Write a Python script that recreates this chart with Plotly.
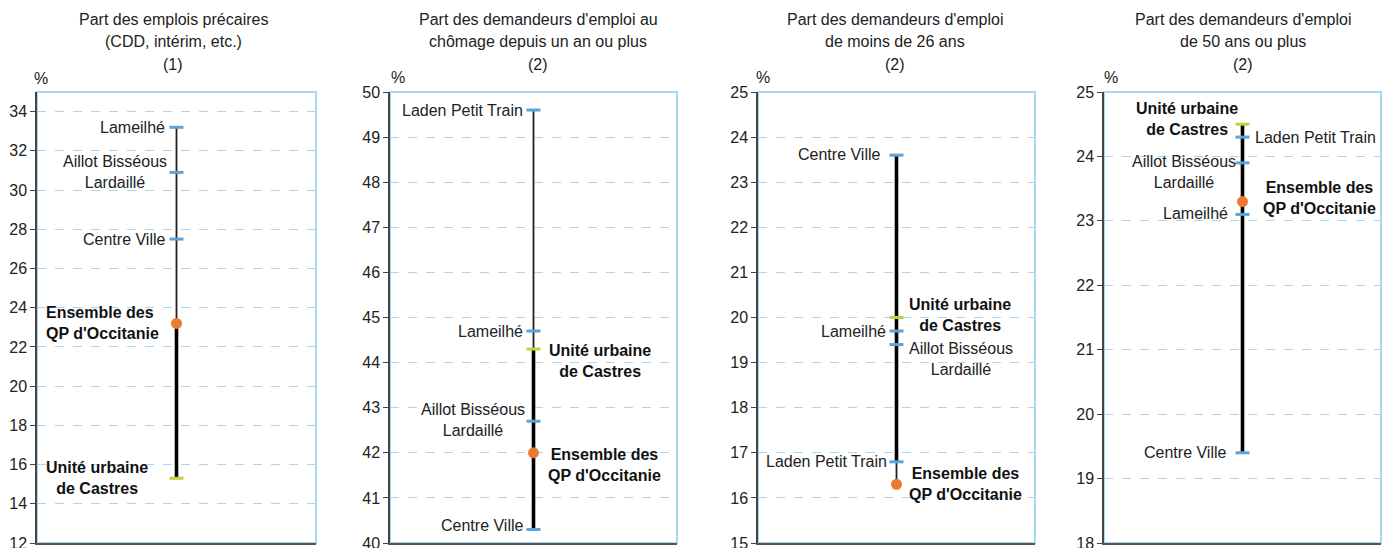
import plotly.graph_objects as go

# ---------------- data ----------------
titles = [
    ["Part des emplois précaires", "(CDD, intérim, etc.)", "(1)"],
    ["Part des demandeurs d'emploi au", "chômage depuis un an ou plus", "(2)"],
    ["Part des demandeurs d'emploi", "de moins de 26 ans", "(2)"],
    ["Part des demandeurs d'emploi", "de 50 ans ou plus", "(2)"],
]
qp_names = ["Lameilhé", "Aillot Bisséous<br>Lardaillé", "Centre Ville", "Laden Petit Train"]
ens_name = "Ensemble des<br>QP d'Occitanie"
uu_name = "Unité urbaine<br>de Castres"

qp_values = [
    [33.2, 30.9, 27.5, None],
    [44.7, 42.7, 40.3, 49.6],
    [19.7, 19.4, 23.6, 16.8],
    [23.1, 23.9, 19.4, 24.3],
]
ens_values = [23.2, 42.0, 16.3, 23.3]
uu_values = [15.3, 44.3, 20.0, 24.5]

y_ranges = [[12, 35], [40, 50], [15, 25], [18, 25]]
y_dticks = [2, 1, 1, 1]

# thick segment bounds, given by the names of the two end points
thick_ends = [
    (ens_name, uu_name),
    (uu_name, "Centre Ville"),
    ("Centre Ville", "Laden Petit Train"),
    (uu_name, "Centre Ville"),
]

# ---------------- label layout (side, xshift px, yshift px, align) ----------------
label_layout = [
    {
        "Lameilhé": ("L", -10, 0, "center"),
        "Aillot Bisséous<br>Lardaillé": ("L", -8, 0, "center"),
        "Centre Ville": ("L", -9, 0, "center"),
        ens_name: ("L", -16, 0, "left"),
        uu_name: ("L", -27, 0, "center"),
    },
    {
        "Laden Petit Train": ("L", -9, 0, "center"),
        "Lameilhé": ("L", -9, 0, "center"),
        uu_name: ("R", 13, -12, "center"),
        "Aillot Bisséous<br>Lardaillé": ("L", -7, 1, "center"),
        ens_name: ("R", 12, -12, "center"),
        "Centre Ville": ("L", -8, 4, "center"),
    },
    {
        "Centre Ville": ("L", -13, 1, "center"),
        uu_name: ("R", 11, 3, "center"),
        "Lameilhé": ("L", -8, 0, "center"),
        "Aillot Bisséous<br>Lardaillé": ("R", 11, -14, "center"),
        "Laden Petit Train": ("L", -7, 0, "center"),
        ens_name: ("R", 11, 0, "center"),
    },
    {
        uu_name: ("L", -3, 5, "center"),
        "Laden Petit Train": ("R", 10, 0, "center"),
        "Aillot Bisséous<br>Lardaillé": ("L", -5, -9, "center"),
        ens_name: ("R", 18, 4, "center"),
        "Lameilhé": ("L", -13, 1, "center"),
        "Centre Ville": ("L", -14, 0, "center"),
    },
]

# ---------------- geometry (page pixels; the page body adds an 8px margin) ----------------
W, H = 1394, 548
OFF = 8
x_domains_px = [(37, 316), (390, 677), (758, 1035), (1104, 1381)]
y_top_px, y_bot_px = 92, 543
title_cx_px = [173, 538, 895, 1243]
title_cy_px = [19, 42, 65]
pct_px = [(41, 78), (398, 77), (763, 77), (1111, 77)]


def fx(px):
    return (px - OFF) / W


def fy(py):
    return 1 - (py - OFF) / H


FONT = "Liberation Sans, Arial, Helvetica, sans-serif"
TXT = "#222222"
BLUE = "#5BA3D8"
GREEN = "#BDD53A"
ORANGE = "#EA7B30"
GRID = "#A6D8F2"
BORDER = "#A9D8F0"

fig = go.Figure()
annotations = []
shapes = []

for i in range(4):
    ax = "" if i == 0 else str(i + 1)
    xref, yref = "x" + ax, "y" + ax
    names = qp_names + [ens_name, uu_name]
    vals = qp_values[i] + [ens_values[i], uu_values[i]]
    lookup = {n: v for n, v in zip(names, vals) if v is not None}
    allv = list(lookup.values())

    # thin line over full range
    fig.add_trace(go.Scatter(x=[0.5, 0.5], y=[min(allv), max(allv)], mode="lines",
                             line=dict(color="#222222", width=1.8), xaxis=xref, yaxis=yref,
                             hoverinfo="skip", showlegend=False))
    a, b = thick_ends[i]
    fig.add_trace(go.Scatter(x=[0.5, 0.5], y=[lookup[a], lookup[b]], mode="lines",
                             line=dict(color="#000000", width=3.6), xaxis=xref, yaxis=yref,
                             hoverinfo="skip", showlegend=False))
    # QP dashes
    qv = [v for v in qp_values[i] if v is not None]
    fig.add_trace(go.Scatter(x=[0.5] * len(qv), y=qv, mode="markers",
                             marker=dict(symbol="line-ew", size=10, line=dict(color=BLUE, width=3)),
                             xaxis=xref, yaxis=yref, showlegend=False))
    fig.add_trace(go.Scatter(x=[0.5], y=[uu_values[i]], mode="markers",
                             marker=dict(symbol="line-ew", size=10, line=dict(color=GREEN, width=3)),
                             xaxis=xref, yaxis=yref, showlegend=False))
    fig.add_trace(go.Scatter(x=[0.5], y=[ens_values[i]], mode="markers",
                             marker=dict(symbol="circle", size=11, color=ORANGE, line=dict(width=0)),
                             xaxis=xref, yaxis=yref, showlegend=False))

    # labels
    for n, v in lookup.items():
        side, dx, dy, al = label_layout[i][n]
        bold = n in (ens_name, uu_name)
        annotations.append(dict(
            x=0.5, y=v, xref=xref, yref=yref, showarrow=False,
            text=f"<b>{n}</b>" if bold else n,
            xanchor="right" if side == "L" else "left", yanchor="middle",
            xshift=dx, yshift=dy, align=al,
            font=dict(family=FONT, size=16, color="#111111" if bold else TXT),
        ))

    # titles
    for line, cy in zip(titles[i], title_cy_px):
        annotations.append(dict(x=fx(title_cx_px[i]), y=fy(cy), xref="paper", yref="paper",
                                text=line, showarrow=False, xanchor="center", yanchor="middle",
                                font=dict(family=FONT, size=16, color=TXT)))
    px_, py_ = pct_px[i]
    annotations.append(dict(x=fx(px_), y=fy(py_), xref="paper", yref="paper", text="%",
                            showarrow=False, xanchor="center", yanchor="middle",
                            font=dict(family=FONT, size=16, color=TXT)))

    # light blue frame (top/right)
    shapes.append(dict(type="rect", xref=xref + " domain", yref=yref + " domain",
                       x0=0, x1=1, y0=0, y1=1, line=dict(color=BORDER, width=2), layer="below"))

    x0, x1 = x_domains_px[i]
    fig.update_layout({
        "xaxis" + ax: dict(domain=[fx(x0), fx(x1)], range=[0, 1], showgrid=False, zeroline=False,
                           showticklabels=False, ticks="", showline=True, linecolor="#555555",
                           linewidth=1.5, fixedrange=True, anchor=yref, automargin=False),
        "yaxis" + ax: dict(domain=[fy(y_bot_px), fy(y_top_px)], range=y_ranges[i],
                           dtick=y_dticks[i], tick0=0, showgrid=True, gridcolor=GRID,
                           griddash="dash", gridwidth=1, zeroline=False, showline=True,
                           linecolor="#444444", linewidth=1.5, ticks="outside", ticklen=5,
                           tickcolor="#444444", tickwidth=1, automargin=False,
                           tickfont=dict(family=FONT, size=16, color=TXT), anchor=xref),
    })

fig.update_layout(
    width=W, height=H, margin=dict(l=0, r=0, t=0, b=0, autoexpand=False),
    paper_bgcolor="white", plot_bgcolor="white",
    annotations=annotations, shapes=shapes, showlegend=False,
)
fig.write_html("out.html")
